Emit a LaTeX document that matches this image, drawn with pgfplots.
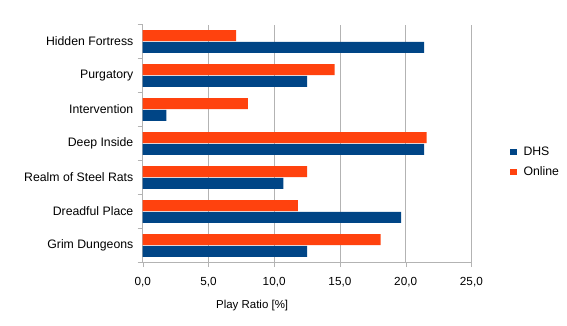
\documentclass[border=0pt]{standalone}
\usepackage{fontspec}
\setmainfont{Liberation Sans}
\usepackage{pgfplots}
\pgfplotsset{compat=1.18}
\definecolor{dhs}{HTML}{004586}
\definecolor{onl}{HTML}{FF420E}
\definecolor{gridc}{HTML}{B3B3B3}
\begin{document}
\begin{tikzpicture}[x=1pt,y=1pt]
\useasboundingbox (-107,-46.9) rectangle (318.2,196.9);
\begin{axis}[
 at={(0,0)}, anchor=south west,
 scale only axis, width=246.5pt, height=178.5pt,
 xbar=0.6pt, bar width=8.2pt,
 xmin=0, xmax=25, ymin=-0.5, ymax=6.5,
 xtick={0,5,...,25},
 ytick={0,...,6},
 yticklabels={Grim Dungeons, Dreadful Place, Realm of Steel Rats, Deep Inside, Intervention, Purgatory, Hidden Fortress},
 minor ytick={-0.5,0.5,...,6.5},
 axis lines=left,
 axis line style={draw=gridc,-},
 tick align=outside,
 major tick length=3.5pt,
 minor tick length=3.75pt,
 every major x tick/.append style={gridc},
 every major y tick/.append style={draw=none},
 every minor y tick/.append style={gridc},
 xmajorgrids,
 major grid style={gridc},
 xticklabel style={font=\fontsize{8.8}{10}\selectfont, yshift=-4pt},
 yticklabel style={font=\fontsize{9.2}{11}\selectfont},
 /pgf/number format/.cd, use comma, fixed, fixed zerofill, precision=1, assume math mode=true,
 /pgfplots/.cd,
 xlabel={Play Ratio [\%]},
 xlabel style={at={(axis description cs:0.333,-0.1786)}, anchor=center, font=\fontsize{8.6}{10}\selectfont},
 legend style={at={(1.105,0.422)}, anchor=west, draw=none, fill=none, font=\fontsize{9.2}{11}\selectfont, row sep=3pt},
 legend cell align=left,
 legend image code/.code={\fill[#1] (-1pt,-2.5pt) rectangle (4pt,2.5pt); \path (7pt,0);},
]
\addplot[fill=dhs, draw=none] coordinates {(12.5,0) (19.65,1) (10.7,2) (21.4,3) (1.8,4) (12.5,5) (21.4,6)};
\addplot[fill=onl, draw=none] coordinates {(18.1,0) (11.8,1) (12.5,2) (21.6,3) (8.0,4) (14.6,5) (7.1,6)};
\legend{DHS, Online}
\end{axis}
\end{tikzpicture}
\end{document}
